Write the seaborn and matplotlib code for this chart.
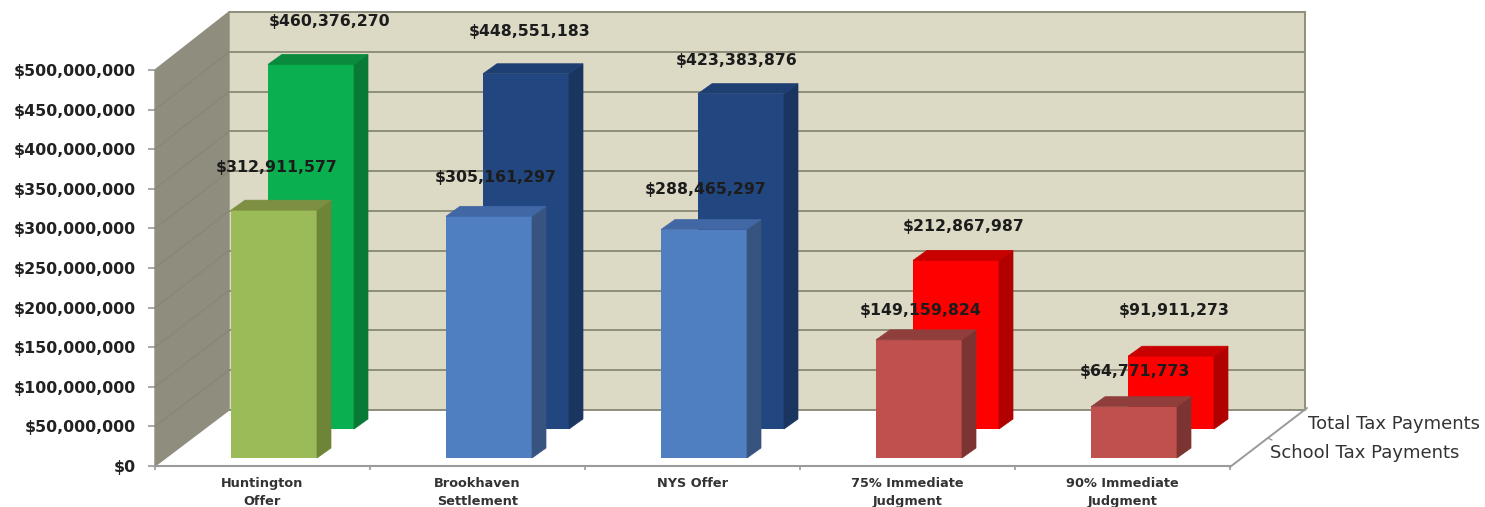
import matplotlib
matplotlib.use("Agg")
import matplotlib.pyplot as plt
from matplotlib.patches import Polygon
from matplotlib.lines import Line2D
from matplotlib.transforms import IdentityTransform
from matplotlib.ticker import FuncFormatter, MultipleLocator
import pandas as pd
import seaborn as sns

categories = ["Huntington\nOffer", "Brookhaven\nSettlement", "NYS Offer",
              "75% Immediate\nJudgment", "90% Immediate\nJudgment"]
school_tax = [312911577, 305161297, 288465297, 149159824, 64771773]
total_tax = [460376270, 448551183, 423383876, 212867987, 91911273]
series_names = ["Total Tax Payments", "School Tax Payments"]

W, H = 1485, 507
sns.set_theme(style="white")
plt.rcParams["font.family"] = ["DejaVu Sans"]
fig = plt.figure(figsize=(W / 100, H / 100), dpi=100, facecolor="white")
px = IdentityTransform()


def flip(y):
    return H - y


def make_axes(x0, x1, ytop, ybot, z):
    ax = fig.add_axes([x0 / W, 1 - ybot / H, (x1 - x0) / W, (ybot - ytop) / H], zorder=z)
    ax.patch.set_alpha(0)
    return ax


def limits(ax):
    ax.set_xlim(-0.5, 4.5)
    ax.set_ylim(0, 500_000_000)


GRID = "#8f8e7c"
AXIS = "#9a9a9a"
TXT = "#1c1c1c"

# back wall
wall = make_axes(229, 1305, 12, 410, 1)
limits(wall)
wall.patch.set_alpha(1)
wall.set_facecolor("#DCD9C4")
wall.yaxis.set_major_locator(MultipleLocator(50_000_000))
wall.grid(axis="y", color=GRID, lw=1.4)
wall.set_xticks([])
wall.tick_params(left=False, labelleft=False)
for s in wall.spines.values():
    s.set_visible(False)
for xs, ys in [([229, 1305], [12, 12]), ([1305, 1305], [12, 410]), ([229, 1305], [410, 410])]:
    fig.add_artist(Line2D(xs, [flip(v) for v in ys], transform=px, color=GRID, lw=1.4, zorder=2))

# front plane: tick labels and axis
main = make_axes(155, 1230, 70, 466, 2)
limits(main)
main.yaxis.set_major_locator(MultipleLocator(50_000_000))
main.yaxis.set_major_formatter(FuncFormatter(lambda v, _: f"${v:,.0f}"))
main.set_xticks(range(5))
main.set_xticklabels(categories, fontsize=9.3, fontweight="bold", color="#333333", linespacing=1.45)
main.set_xticks([i - 0.5 for i in range(6)], minor=True)
main.tick_params(axis="x", which="major", length=0, pad=8)
main.tick_params(axis="x", which="minor", length=3, color=AXIS, width=1.2, bottom=True)
main.tick_params(axis="y", length=5, color=AXIS, width=1.2, left=True, pad=9,
                 labelsize=11.4, labelcolor="#222222")
for label in main.get_yticklabels():
    label.set_fontweight("bold")
for name, s in main.spines.items():
    s.set_visible(name == "bottom")
main.spines["bottom"].set_color(AXIS)
main.spines["bottom"].set_linewidth(1.5)

# left wall + floor edge, positions taken from the axes scales
left_wall = [main.transData.transform((-0.5, 0)), main.transData.transform((-0.5, 500_000_000)),
             wall.transData.transform((-0.5, 500_000_000)), wall.transData.transform((-0.5, 0))]
main.add_patch(Polygon(left_wall, closed=True, transform=px, fc="#8F8D7D", ec="#8F8D7D",
                       clip_on=False, zorder=1))
for tick in main.get_yticks():
    if 0 < tick < 500_000_000:
        a = main.transData.transform((-0.5, tick))
        b = wall.transData.transform((-0.5, tick))
        main.add_line(Line2D([a[0], b[0]], [a[1], b[1]], transform=px, color="#888673",
                             lw=0.9, clip_on=False, zorder=1.5))
fig.add_artist(Line2D([1230, 1307], [flip(467), flip(408)], transform=px, color=AXIS, lw=1.4))
fig.add_artist(Line2D([1268, 1272], [flip(438), flip(440)], transform=px, color=AXIS, lw=1))
fig.text(1308 / W, flip(424) / H, series_names[0], fontsize=13, color="#333333", va="center", ha="left")
fig.text(1270 / W, flip(453) / H, series_names[1], fontsize=13, color="#333333", va="center", ha="left")

DEPTH = (14, 10)


def draw_series(ax, values, faces, sides, tops, label_offsets):
    df = pd.DataFrame({"category": categories, "value": values})
    sns.barplot(data=df, x="category", y="value", hue="category", palette=faces, ax=ax,
                width=0.4, saturation=1, legend=False, dodge=False, linewidth=0)
    limits(ax)
    ax.axis("off")
    bars = [b for b in ax.patches if b.get_height() > 0]
    for bar, value, side, top, (dx, dy) in zip(bars, values, sides, tops, label_offsets):
        xa, xb = bar.get_x(), bar.get_x() + bar.get_width()
        (l, b), (r, t) = ax.transData.transform([(xa, 0), (xb, value)])
        ax.add_patch(Polygon([(r, b), (r + DEPTH[0], b + DEPTH[1]), (r + DEPTH[0], t + DEPTH[1]), (r, t)],
                             closed=True, transform=px, fc=side, ec=side, lw=0.5, clip_on=False, zorder=3))
        ax.add_patch(Polygon([(l, t), (r, t), (r + DEPTH[0], t + DEPTH[1]), (l + DEPTH[0], t + DEPTH[1])],
                             closed=True, transform=px, fc=top, ec=top, lw=0.5, clip_on=False, zorder=3))
        ax.annotate(f"${value:,.0f}", xy=((xa + xb) / 2, value), xytext=(dx, dy),
                    textcoords="offset pixels", ha="center", va="center", fontsize=11.3,
                    fontweight="bold", color=TXT, annotation_clip=False, zorder=5)


# rear row, then front row, each plane shifted along the floor
back = make_axes(155 + 48.5, 1230 + 48.5, 70 - 37, 466 - 37, 3)
draw_series(back, total_tax,
            ["#0AB04F", "#224780", "#224780", "#FF0000", "#FF0000"],
            ["#087A35", "#1A3560", "#1A3560", "#B00000", "#B00000"],
            ["#0A8A3C", "#1E3F72", "#1E3F72", "#C80000", "#C80000"],
            [(19, 43), (4, 42), (-4, 33), (8, 34), (3, 46)])
front = make_axes(155 + 11.5, 1230 + 11.5, 70 - 8, 466 - 8, 4)
draw_series(front, school_tax,
            ["#9BBB59", "#4F7FC0", "#4F7FC0", "#C0504D", "#C0504D"],
            ["#6E8437", "#36547F", "#36547F", "#7B3432", "#7B3432"],
            ["#7C8F42", "#4168A5", "#4168A5", "#8F3E3C", "#8F3E3C"],
            [(3, 43), (7, 39), (2, 40), (2, 29), (1, 35)])

fig.savefig("out.png", dpi=100, facecolor="white")
